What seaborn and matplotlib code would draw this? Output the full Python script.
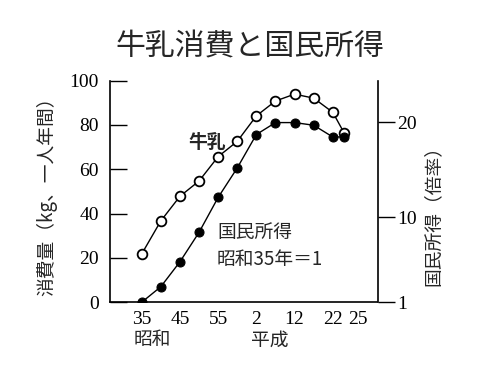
import matplotlib
matplotlib.use("Agg")
import matplotlib.pyplot as plt
import seaborn as sns
import pandas as pd

# --- Data ---
years = [1960, 1965, 1970, 1975, 1980, 1985, 1990, 1995, 2000, 2005, 2010, 2013]
milk_kg = [21.8, 36.7, 47.8, 54.7, 65.7, 72.6, 84.1, 90.8, 93.9, 92.1, 85.7, 76.3]
income_ratio = [1.0, 2.64, 5.27, 8.38, 12.07, 15.18, 18.71, 19.97, 19.97, 19.69, 18.45, 18.45]

tick_pos = [1960, 1965, 1970, 1975, 1980, 1985, 1990, 1995, 2000, 2005, 2010, 2016.5]
tick_lab = ["35", "", "45", "", "55", "", "2", "", "12", "", "22", "25"]

df = pd.DataFrame({"year": years, "milk": milk_kg, "income": income_ratio})

sns.set_style("white")
CJK = ["Noto Sans CJK JP", "DejaVu Sans"]
NUM = ["Liberation Serif", "Noto Sans CJK JP"]
plt.rcParams["font.family"] = CJK

fig = plt.figure(figsize=(5, 3.75), dpi=100)
ax = fig.add_axes([0.22, 0.194, 0.535, 0.591])
ax2 = ax.twinx()

sns.lineplot(data=df, x="year", y="milk", ax=ax, color="black", linewidth=1,
             marker="o", markersize=7, markerfacecolor="white",
             markeredgecolor="black", markeredgewidth=1.3)
sns.lineplot(data=df, x="year", y="income", ax=ax2, color="black", linewidth=1,
             marker="o", markersize=6.5, markerfacecolor="black",
             markeredgecolor="black")

ax.set_xlim(1951.7, 2021.7)
ax.set_ylim(0, 100)
ax2.set_ylim(1, 24.4)

ax.set_xticks(tick_pos)
ax.set_xticklabels(tick_lab, fontfamily=NUM, fontsize=14)
ax.set_yticks([0, 20, 40, 60, 80, 100])
ax.set_yticklabels(["0", "20", "40", "60", "80", "100"], fontfamily=NUM, fontsize=14)
ax2.set_yticks([1, 10, 20])
ax2.set_yticklabels(["1", "10", "20"], fontfamily=NUM, fontsize=14)

ax.tick_params(axis="x", direction="in", length=8, width=1, pad=6, colors="black")
ax.tick_params(axis="y", direction="in", length=12, width=1, pad=8, colors="black")
ax2.tick_params(axis="y", direction="out", length=12, width=1, pad=2, colors="black")

for a in (ax, ax2):
    a.spines["top"].set_visible(False)
    for s in ("left", "right", "bottom"):
        a.spines[s].set_color("black")
        a.spines[s].set_linewidth(1.2)
ax.spines["right"].set_visible(False)
ax2.spines["left"].set_visible(False)
ax2.spines["bottom"].set_visible(False)

ax.set_xlabel("")
ax.set_ylabel("消費量（kg、一人年間）", fontsize=13.5)
ax.yaxis.set_label_coords(-0.198, 0.5)
ax2.set_ylabel("国民所得（倍率）", fontsize=13.5)
ax2.yaxis.set_label_coords(1.17, 0.41)

fig.text(0.5, 0.875, "牛乳消費と国民所得", ha="center", va="center", fontsize=21.5)

ax.text(1972.1, 72, "牛乳", fontsize=13.5, fontweight="bold", ha="left", va="center")
ax.text(1979.7, 31.3, "国民所得", fontsize=13.5, ha="left", va="center")
ax.text(1979.7, 19.1, "昭和35年＝1", fontsize=13.5, ha="left", va="center")

fig.text(152 / 500, 1 - 340 / 375, "昭和", fontsize=13.5, ha="center", va="center")
fig.text(270 / 500, 1 - 340 / 375, "平成", fontsize=13.5, ha="center", va="center")

fig.savefig("out.png", dpi=100)
